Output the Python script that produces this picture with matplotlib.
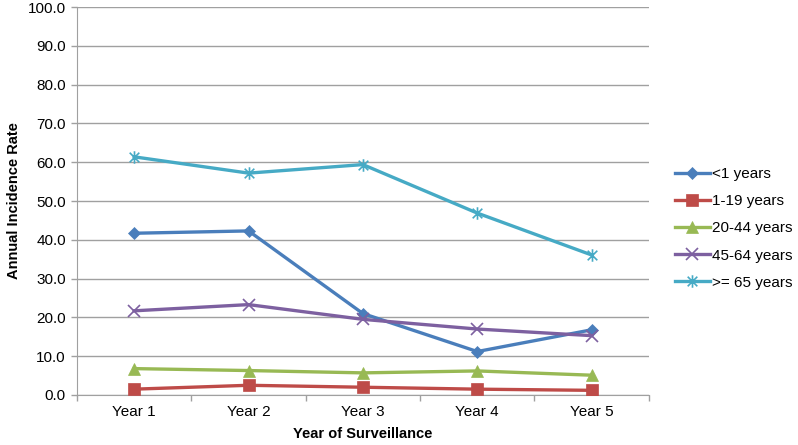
import numpy as np
import matplotlib.pyplot as plt
from matplotlib.path import Path

plt.rcParams['font.family'] = ['Liberation Sans', 'DejaVu Sans']

years = ['Year 1', 'Year 2', 'Year 3', 'Year 4', 'Year 5']
series_names = ['<1 years', '1-19 years', '20-44 years', '45-64 years', '>= 65 years']
lt1 = [41.7, 42.3, 21.0, 11.2, 16.8]
y1_19 = [1.5, 2.5, 2.0, 1.5, 1.2]
y20_44 = [6.8, 6.3, 5.7, 6.2, 5.1]
y45_64 = [21.7, 23.3, 19.5, 17.0, 15.3]
ge65 = [61.4, 57.2, 59.4, 46.9, 36.1]

colors = ['#4A7EBB', '#BE4B48', '#98B954', '#7D60A0', '#46AAC5']

# Excel style asterisk: x plus a vertical bar
star = Path([(-1, -1), (1, 1), (-1, 1), (1, -1), (0, -1.3), (0, 1.3)],
            [Path.MOVETO, Path.LINETO, Path.MOVETO, Path.LINETO, Path.MOVETO, Path.LINETO])
markers = ['D', 's', '^', 'x', star]
msizes = [6, 8, 8, 8, 9]

fig = plt.figure(figsize=(7.98, 4.45), dpi=100)
ax = fig.add_axes([0.0965, 0.1124, 0.7165, 0.8716])

x = np.arange(len(years))
data = [lt1, y1_19, y20_44, y45_64, ge65]
for vals, name, c, m, ms in zip(data, series_names, colors, markers, msizes):
    ax.plot(x, vals, color=c, lw=2.4, marker=m, ms=ms, mew=1.2 if m in ('x',) or m is star else 0.5,
            mec=c, mfc=c, label=name, zorder=3)

ax.set_xlim(-0.5, 4.5)
ax.set_ylim(0, 100)
ax.set_yticks(np.arange(0, 101, 10))
ax.set_yticklabels([f'{v:.1f}' for v in np.arange(0, 101, 10)], fontsize=11)
ax.set_xticks(x)
ax.set_xticklabels(years, fontsize=11)
ax.set_xticks(np.arange(-0.5, 5, 1), minor=True)
ax.tick_params(axis='x', which='major', length=0, pad=7)
ax.tick_params(axis='x', which='minor', length=4, color='#A0A0A0', width=1)
ax.tick_params(axis='y', length=4, color='#A0A0A0', width=1, pad=4)

ax.grid(axis='y', color='#A0A0A0', lw=1)
ax.set_axisbelow(True)
for s in ['top', 'right']:
    ax.spines[s].set_visible(False)
ax.spines['left'].set_color('#A0A0A0')
ax.spines['bottom'].set_color('#A0A0A0')

ax.set_xlabel('Year of Surveillance', fontsize=10.5, fontweight='bold', labelpad=6)
ax.set_ylabel('Annual Incidence Rate', fontsize=10.5, fontweight='bold', labelpad=5)

ax.legend(loc='upper left', bbox_to_anchor=(1.035, 0.603), frameon=False, fontsize=11,
          handlelength=2.3, labelspacing=0.86, handletextpad=0.15, borderaxespad=0)

fig.savefig('out.png', dpi=100)
